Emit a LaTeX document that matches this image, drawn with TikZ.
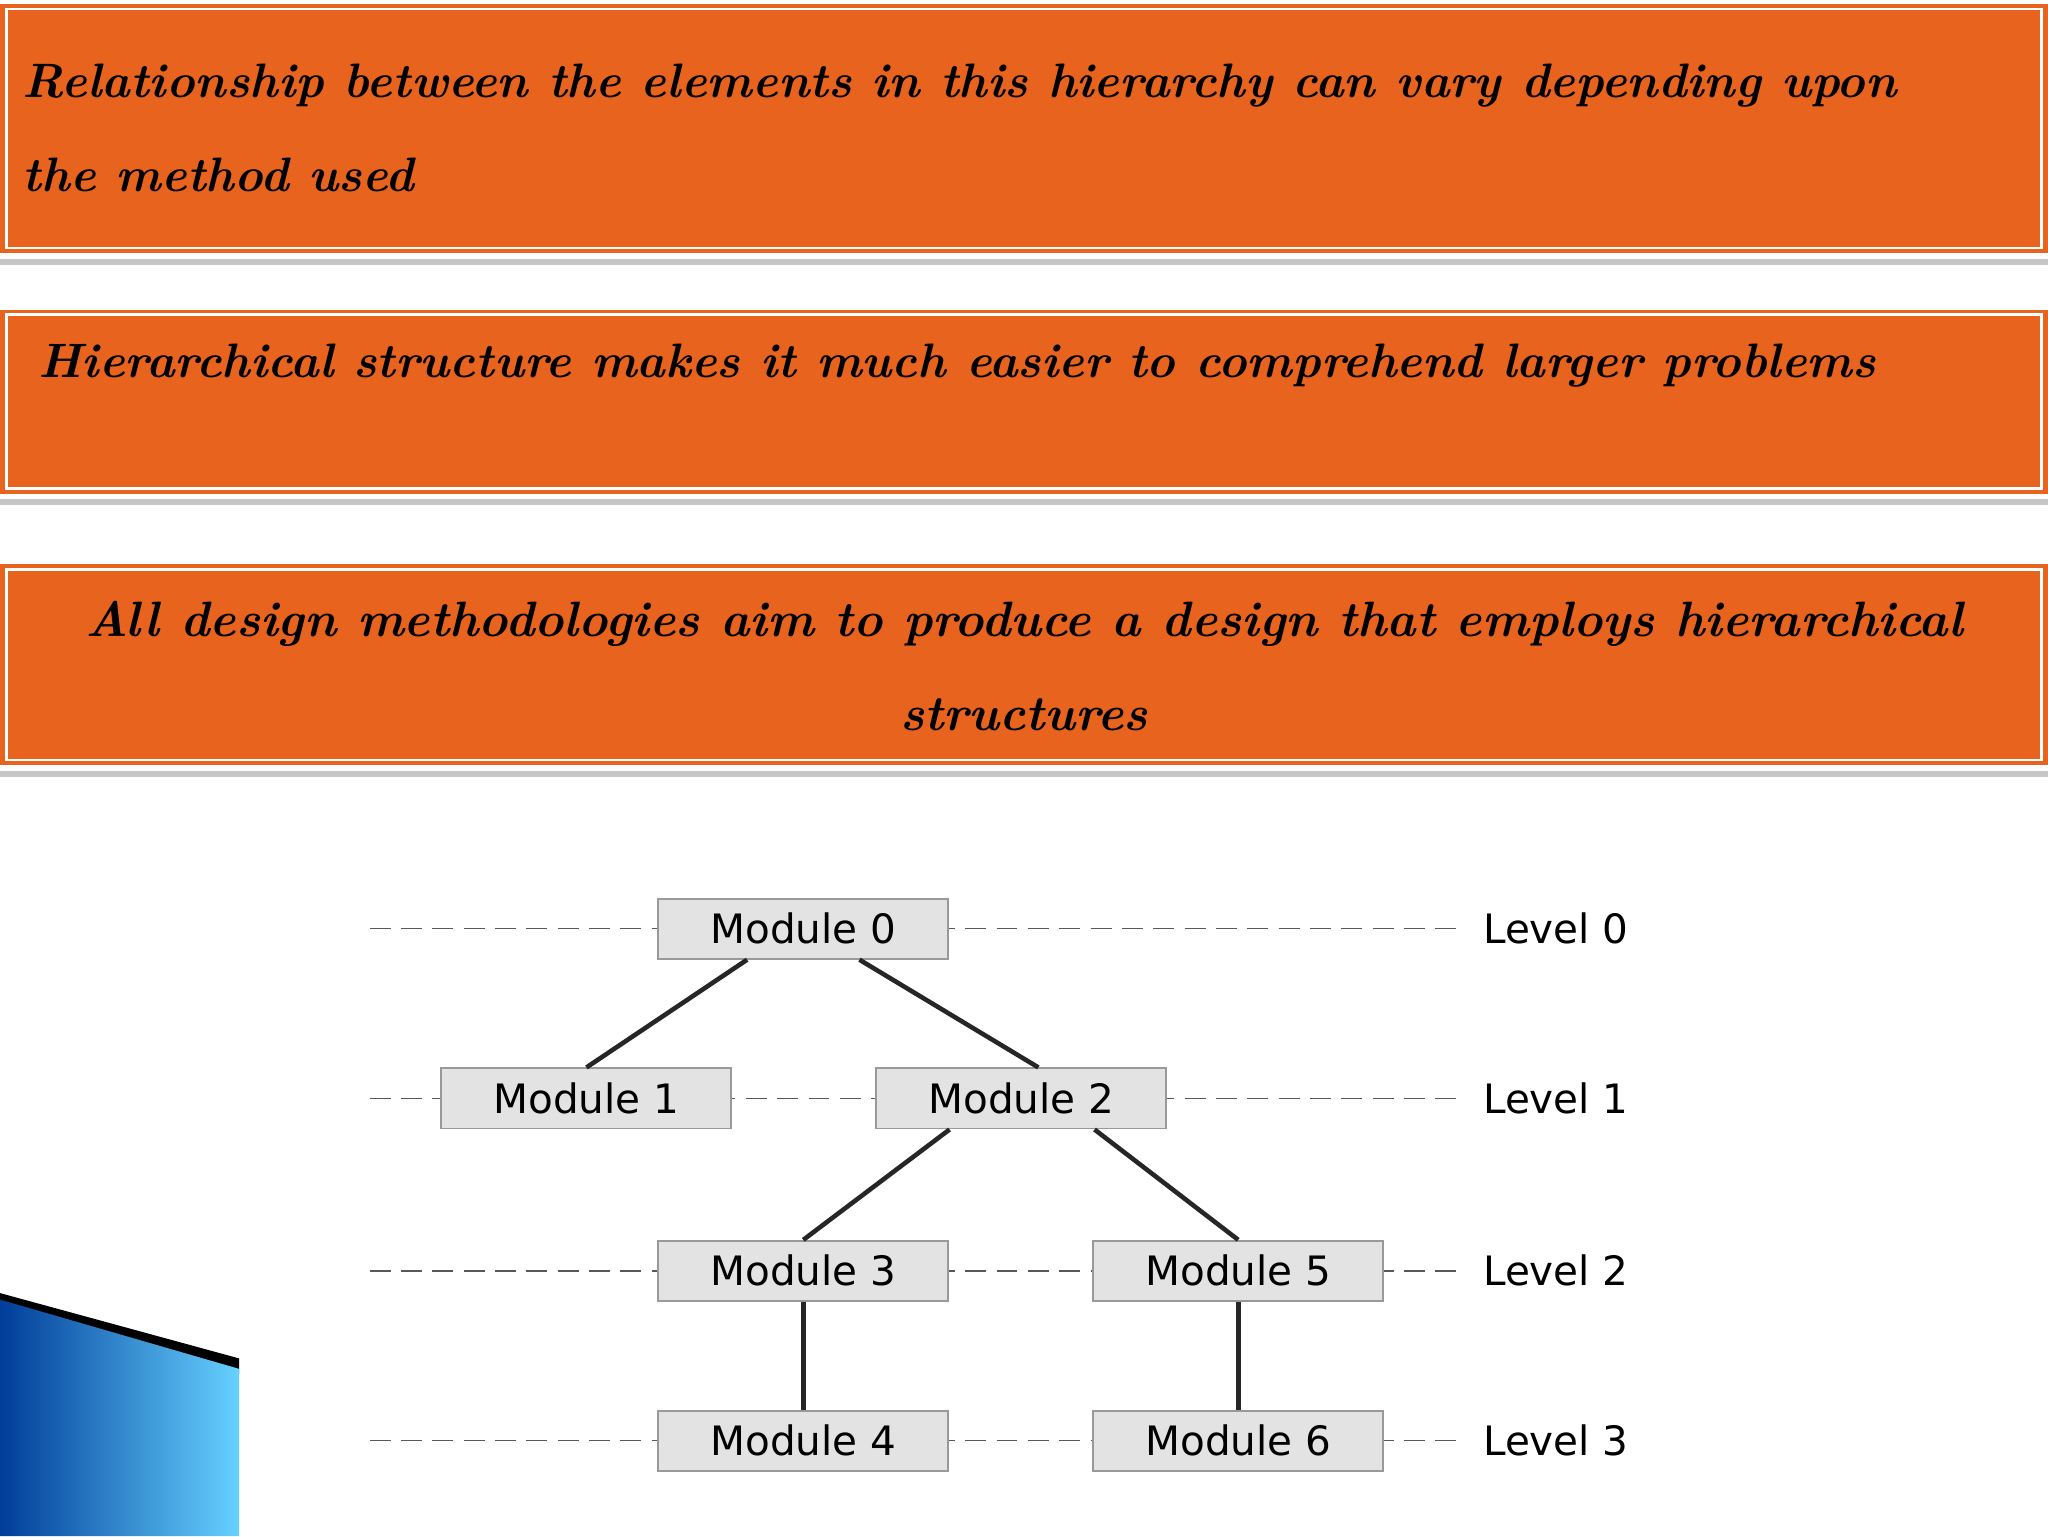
\documentclass[tikz,border=0pt]{standalone}
\usepackage{fontspec}
\setsansfont{DejaVu Sans}
\begin{document}
\begin{tikzpicture}[x=1pt,y=-1pt,
mod/.style={draw=gray!80,fill=gray!22,line width=1.5pt,minimum width=222pt,minimum height=46pt,font=\sffamily\fontsize{31}{32}\selectfont},
lvl/.style={anchor=west,font=\sffamily\fontsize{31}{32}\selectfont},
dl/.style={gray!70!black,line width=1pt,dash pattern=on 16pt off 8pt},
ed/.style={line width=3.5pt,black!85}]
\definecolor{orng}{HTML}{E8641E}
\useasboundingbox (0,0) rectangle (1568,1176);
\fill[white] (0,0) rectangle (1568,1176);
\foreach \a/\b in {3/194,237/378,432/586}{
  \fill[gray!45] (0,\b+4) rectangle (1568,\b+9);
  \fill[orng] (0,\a) rectangle (1568,\b);
  \draw[white,line width=2pt] (5,\a+4) rectangle (1563,\b-4);
}
\node[anchor=west,font=\itshape\bfseries\fontsize{37}{72}\selectfont,align=left] (t1) at (14,98) {Relationship between the elements in this hierarchy can vary depending upon\\the method used};
\node[anchor=west,font=\itshape\bfseries\fontsize{37}{48}\selectfont] (t2) at (26,280) {Hierarchical structure makes it much easier to comprehend larger problems};
\node[font=\itshape\bfseries\fontsize{38}{72}\selectfont,align=center] (t3) at (784,510) {All design methodologies aim to produce a design that employs hierarchical\\structures};
\fill[black] (0,990) -- (183,1040) -- (183,1052) -- (0,1000) -- cycle;
\shade[left color=cyan!40!blue!60!black,right color=cyan!70!blue!60] (0,995) -- (183,1048) -- (183,1176) -- (0,1176) -- cycle;
\foreach \y/\n in {711/0,841/1,973/2,1103/3}{
  \draw[dl] (283,\y) -- (1115,\y);
  \node[lvl] (L\n) at (1132,\y) {Level \n};
}
\node[mod] (m0) at (615,711) {Module 0};
\node[mod] (m1) at (449,841) {Module 1};
\node[mod] (m2) at (782,841) {Module 2};
\node[mod] (m3) at (615,973) {Module 3};
\node[mod] (m5) at (948,973) {Module 5};
\node[mod] (m4) at (615,1103) {Module 4};
\node[mod] (m6) at (948,1103) {Module 6};
\draw[ed] ([xshift=-43pt]m0.south) -- (m1.north);
\draw[ed] ([xshift=43pt]m0.south) -- ([xshift=13pt]m2.north);
\draw[ed] ([xshift=-55pt]m2.south) -- (m3.north);
\draw[ed] ([xshift=56pt]m2.south) -- (m5.north);
\draw[ed] (m3) -- (m4);
\draw[ed] (m5) -- (m6);
\end{tikzpicture}
\end{document}
